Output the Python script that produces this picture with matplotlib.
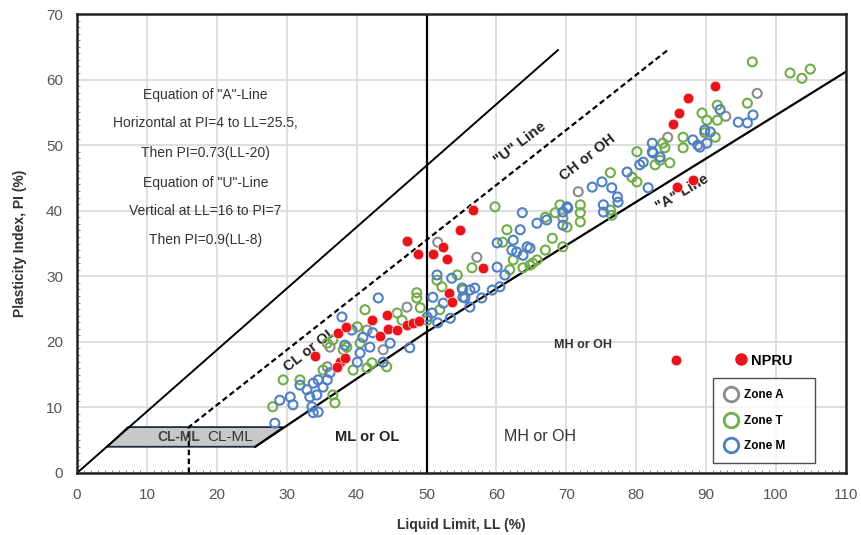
import numpy as np
import matplotlib
matplotlib.use("Agg")
import matplotlib.pyplot as plt
from matplotlib.lines import Line2D
from matplotlib.patches import Polygon

plt.rcParams['font.family'] = ['Liberation Sans', 'DejaVu Sans']

# Zone M (blue)
zone_m_ll = [28.3, 29.0, 30.5, 30.9, 31.9, 32.9, 33.8, 34.5, 35.2, 33.3, 34.3, 34.5, 33.6, 33.8,
             35.8, 36.2, 38.3, 39.3, 40.1, 40.5, 41.9, 40.9, 42.3, 44.8, 43.1, 37.9, 47.6, 43.8,
             50.1, 50.9, 50.8, 51.6, 52.4, 53.4, 53.6, 51.5, 55.1, 55.2, 56.2, 56.2, 56.9, 55.5,
             57.9, 59.4, 60.5, 60.1, 61.2, 60.1, 62.4, 62.2, 62.9, 63.8, 64.4, 63.4, 63.7, 65.8,
             67.2, 70.1, 64.8, 69.5, 70.2, 69.5, 73.7, 75.1, 76.5, 77.3, 77.4, 75.3, 78.7, 80.5,
             81.7, 82.4, 81.0, 82.3, 82.3, 83.4, 88.1, 88.8, 90.1, 89.1, 90.6, 89.8, 92.0, 94.6,
             95.9, 96.7, 75.3]
zone_m_pi = [7.6, 11.1, 11.6, 10.4, 13.4, 12.7, 13.7, 14.2, 13.1, 11.6, 11.9, 9.3, 10.1, 9.2,
             14.2, 15.3, 19.5, 21.8, 16.9, 18.3, 19.2, 20.7, 21.4, 19.8, 26.7, 23.8, 19.1, 16.9,
             23.8, 26.8, 24.4, 22.9, 25.9, 23.6, 29.7, 30.2, 28.2, 26.8, 27.9, 25.3, 28.2, 26.7,
             26.7, 27.9, 28.4, 31.4, 30.2, 35.1, 35.5, 34.0, 33.7, 33.2, 34.5, 37.1, 39.7, 38.1,
             38.6, 40.6, 34.3, 39.8, 40.4, 37.8, 43.6, 44.4, 43.5, 42.1, 41.3, 39.8, 45.9, 47.0,
             43.5, 48.8, 47.4, 50.3, 49.0, 48.2, 50.8, 50.0, 50.3, 49.7, 52.0, 52.3, 55.4, 53.5,
             53.4, 54.6, 40.9]

# Zone T (green)
zone_t_ll = [28.0, 29.5, 31.9, 35.2, 36.6, 36.9, 35.8, 36.6, 38.1, 38.6, 39.5, 40.5, 40.1, 41.5,
             42.2, 44.3, 41.2, 45.8, 46.5, 48.6, 49.1, 48.6, 50.1, 51.5, 51.9, 54.4, 52.2, 55.2,
             56.5, 61.9, 63.8, 65.2, 65.8, 62.4, 61.5, 60.9, 59.8, 67.0, 68.0, 68.4, 69.1, 70.1,
             67.0, 72.0, 72.0, 72.0, 69.5, 64.8, 76.3, 76.5, 76.3, 80.1, 79.4, 80.1, 83.4, 84.8,
             82.7, 83.8, 84.1, 86.7, 86.7, 89.4, 90.1, 91.6, 91.6, 91.3, 89.8, 95.9, 96.6, 102.0,
             103.7, 104.9]
zone_t_pi = [10.1, 14.2, 14.2, 15.7, 11.9, 10.7, 19.8, 20.3, 18.8, 19.2, 15.7, 19.8, 22.3, 16.0,
             16.8, 16.2, 24.9, 24.4, 23.3, 26.7, 25.2, 27.5, 23.3, 29.4, 24.9, 30.2, 28.4, 27.9,
             31.3, 31.0, 31.3, 32.0, 32.5, 32.5, 37.1, 35.2, 40.6, 34.0, 35.8, 39.7, 40.9, 37.5,
             39.0, 40.9, 39.7, 38.3, 34.5, 31.7, 45.8, 39.3, 40.1, 44.4, 45.1, 49.0, 47.7, 47.3,
             47.0, 50.3, 49.6, 51.2, 49.6, 54.9, 53.8, 53.8, 56.1, 51.2, 51.9, 56.4, 62.7, 61.0,
             60.2, 61.6]

# Zone A (grey)
zone_a_ll = [36.2, 35.8, 41.5, 43.8, 47.2, 57.2, 71.7, 69.5, 84.5, 92.8, 97.3, 51.6]
zone_a_pi = [19.2, 16.2, 21.8, 18.8, 25.3, 32.9, 42.9, 38.9, 51.2, 54.4, 57.9, 35.2]

# NPRU (red, filled)
npru_ll = [47.2, 48.8, 50.9, 52.4, 52.9, 54.8, 56.7, 58.1, 53.2, 53.6, 34.0, 37.3, 38.5, 37.6,
           38.3, 37.2, 42.2, 44.3, 43.3, 44.5, 45.8, 47.2, 48.1, 48.9, 85.3, 86.1, 87.4, 91.3,
           85.8, 88.1, 85.7]
npru_pi = [35.4, 33.4, 33.4, 34.5, 32.6, 37.1, 40.1, 31.3, 27.5, 26.1, 17.8, 21.4, 22.3, 16.9,
           17.5, 16.2, 23.3, 24.1, 20.9, 22.0, 21.8, 22.6, 22.9, 23.2, 53.2, 54.9, 57.2, 59.0,
           43.6, 44.7, 17.2]

# chart reference lines as drawn in the figure
a_line_ll = [25.5, 50.0, 110.0]
a_line_pi = [4.0, 21.5, 61.2]
u_line_ll = [16.0, 16.0, 84.5]
u_line_pi = [0.0, 7.0, 64.5]
outer_ll = [0.0, 68.8]
outer_pi = [0.0, 64.5]
clml_ll = [4.3, 25.5, 29.5, 7.3]
clml_pi = [4.0, 4.0, 7.0, 7.0]

equation_lines = ['Equation of "A"-Line', 'Horizontal at PI=4 to LL=25.5,',
                  'Then PI=0.73(LL-20)', 'Equation of "U"-Line',
                  'Vertical at LL=16 to PI=7', 'Then PI=0.9(LL-8)']
equation_pi = [57.7, 53.4, 48.8, 44.2, 40.0, 35.5]

fig = plt.figure(figsize=(8.62, 5.35), dpi=100)
ax = fig.add_axes([0.0893, 0.1159, 0.8921, 0.8579])
ax.set_xlim(0, 110)
ax.set_ylim(0, 70)
ax.set_xticks(np.arange(0, 111, 10))
ax.set_yticks(np.arange(0, 71, 10))
ax.set_xticks(np.arange(0, 111, 1), minor=True)
ax.set_yticks(np.arange(0, 71, 1), minor=True)
ax.grid(True, which='major', color='#dcdcdc', lw=1.3, zorder=0)
ax.tick_params(which='major', length=0, labelsize=11, labelcolor='#555555')
ax.tick_params(axis='x', which='major', pad=11)
ax.tick_params(axis='y', which='major', pad=10)
ax.tick_params(which='minor', direction='in', length=2, width=0.6, color='#777777')
for s in ax.spines.values():
    s.set_linewidth(1.8)
    s.set_color('#222222')

# CL-ML zone
ax.add_patch(Polygon(list(zip(clml_ll, clml_pi)), closed=True, facecolor='#c8c8c8',
                     edgecolor='#1f2a44', lw=1.3, zorder=2))
ax.plot(outer_ll, outer_pi, color='black', lw=1.4, zorder=2)
ax.plot(a_line_ll, a_line_pi, color='black', lw=1.6, zorder=2)
ax.plot(u_line_ll, u_line_pi, color='black', lw=1.6, ls=(0, (2.5, 1.5)), zorder=2)
ax.axvline(50, color='black', lw=1.6, zorder=2)

# zone labels
ax.text(14.5, 5.5, 'CL-ML', fontsize=10, fontweight='bold', color='#444444',
        ha='center', va='center', zorder=3)
ax.text(21.9, 5.5, 'CL-ML', fontsize=11, color='#333333', ha='center', va='center', zorder=3)
ax.text(41.5, 5.5, 'ML or OL', fontsize=10.5, fontweight='bold', color='#222222',
        ha='center', va='center', zorder=3)
ax.text(66.2, 5.5, 'MH or OH', fontsize=11.5, color='#333333', ha='center', va='center', zorder=3)
ax.text(72.4, 19.5, 'MH or OH', fontsize=9, fontweight='bold', color='#333333',
        ha='center', va='center', zorder=3)
ax.text(33.3, 18.8, 'CL or OL', fontsize=10.5, fontweight='bold', color='#222222',
        rotation=38, ha='center', va='center', rotation_mode='anchor', zorder=3)
ax.text(73.1, 48.2, 'CH or OH', fontsize=10.5, fontweight='bold', color='#222222',
        rotation=38, ha='center', va='center', rotation_mode='anchor', zorder=3)
ax.text(63.4, 50.3, '"U" Line', fontsize=11, fontweight='bold', color='#222222',
        rotation=37, ha='center', va='center', rotation_mode='anchor', zorder=3)
ax.text(86.6, 42.7, '"A" Line', fontsize=10.5, fontweight='bold', color='#222222',
        rotation=30.5, ha='center', va='center', rotation_mode='anchor', zorder=3)
for txt, y in zip(equation_lines, equation_pi):
    ax.text(18.4, y, txt, fontsize=10, color='#333333', ha='center', va='center', zorder=3)

# data
ax.scatter(zone_a_ll, zone_a_pi, s=42, facecolors='none', edgecolors='#8c8c8c', lw=1.5, zorder=4)
ax.scatter(zone_t_ll, zone_t_pi, s=42, facecolors='none', edgecolors='#70ad47', lw=1.5, zorder=4)
ax.scatter(zone_m_ll, zone_m_pi, s=42, facecolors='none', edgecolors='#4f7fc4', lw=1.5, zorder=4)
ax.scatter(npru_ll, npru_pi, s=58, color='#e8141c', edgecolors='#ffdddd', lw=0.5, zorder=5)

ax.set_xlabel('Liquid Limit, LL (%)', fontsize=10, fontweight='bold', color='#333333', labelpad=11)
ax.set_ylabel('Plasticity Index, PI (%)', fontsize=10, fontweight='bold', color='#333333', labelpad=14)

zone_handles = [
    Line2D([], [], marker='o', ls='none', ms=10.5, mfc='none', mec='#8c8c8c', mew=2, label='Zone A'),
    Line2D([], [], marker='o', ls='none', ms=10.5, mfc='none', mec='#70ad47', mew=2, label='Zone T'),
    Line2D([], [], marker='o', ls='none', ms=10.5, mfc='none', mec='#4f7fc4', mew=2, label='Zone M'),
]
leg = ax.legend(handles=zone_handles, loc='lower left', bbox_to_anchor=(0.827, 0.022, 0.133, 0.19),
                mode='expand', frameon=True, fancybox=False, edgecolor='#222222',
                prop={'weight': 'bold', 'size': 8.5}, handletextpad=0.4, borderpad=0.9,
                labelspacing=1.15, handlelength=1.3, borderaxespad=0)
leg.get_frame().set_linewidth(1.0)
ax.add_artist(leg)
npru_handle = [Line2D([], [], marker='o', ls='none', ms=8, color='#e8141c', label='NPRU')]
ax.legend(handles=npru_handle, loc='center left', bbox_to_anchor=(0.835, 0.245), frameon=False,
          prop={'weight': 'bold', 'size': 10.5}, handletextpad=0.1, handlelength=1.2)

fig.savefig('out.png', dpi=100)
